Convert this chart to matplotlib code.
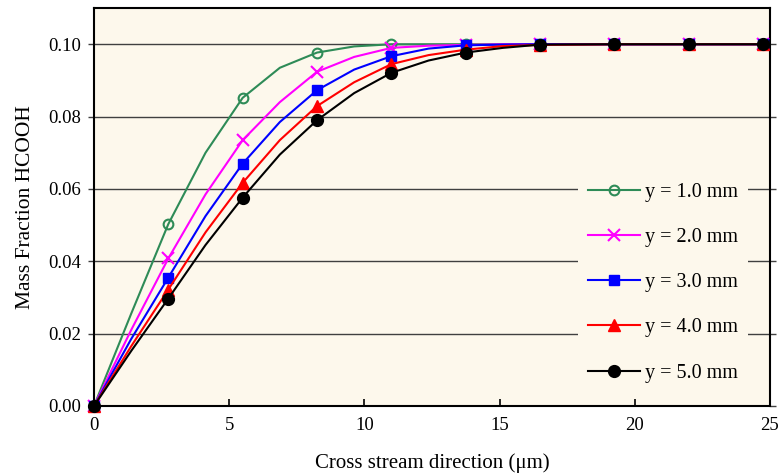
import numpy as np
import matplotlib
matplotlib.use("Agg")
import matplotlib.pyplot as plt

plt.rcParams['font.family'] = ['Liberation Serif', 'DejaVu Serif']
plt.rcParams['mathtext.fontset'] = 'stix'

# cross stream position (um); markers on every second point
x = [0, 1.375, 2.75, 4.125, 5.5, 6.875, 8.25, 9.625, 11, 12.375, 13.75,
     15.125, 16.5, 19.25, 22, 24.75]

y1 = [0, 0.0255, 0.0503, 0.0700, 0.0852, 0.0935, 0.0977, 0.0994, 0.1000, 0.1000, 0.1000,
      0.1000, 0.1000, 0.1000, 0.1000, 0.1000]
y2 = [0, 0.0210, 0.0408, 0.0585, 0.0735, 0.0840, 0.0924, 0.0965, 0.0990, 0.0996, 0.0998,
      0.1000, 0.1000, 0.1000, 0.1000, 0.1000]
y3 = [0, 0.0185, 0.0355, 0.0525, 0.0670, 0.0785, 0.0873, 0.0930, 0.0967, 0.0988, 0.0997,
      0.0999, 0.1000, 0.1000, 0.1000, 0.1000]
y4 = [0, 0.0165, 0.0322, 0.0480, 0.0617, 0.0735, 0.0829, 0.0895, 0.0945, 0.0970, 0.0985,
      0.0995, 0.0998, 0.1000, 0.1000, 0.1000]
y5 = [0, 0.0152, 0.0297, 0.0445, 0.0576, 0.0695, 0.0790, 0.0865, 0.0921, 0.0955, 0.0977,
      0.0990, 0.0999, 0.1000, 0.1000, 0.1000]

labels = ['y = 1.0 mm', 'y = 2.0 mm', 'y = 3.0 mm', 'y = 4.0 mm', 'y = 5.0 mm']
colors = ['#2e8b57', '#ff00ff', '#0000ff', '#ff0000', '#000000']
markers = ['o', 'x', 's', '^', 'o']
msizes = [7, 9, 7.5, 8.5, 8]
mark_idx = [0, 2, 4, 6, 8, 10, 12, 13, 14, 15]

fig = plt.figure(figsize=(7.8, 4.75), dpi=100)
ax = fig.add_axes([0.1205, 0.1453, 0.8665, 0.8377])
ax.set_facecolor('#fdf8ec')

for ys, lab, c, m, ms in zip([y1, y2, y3, y4, y5], labels, colors, markers, msizes):
    face = 'none' if lab == labels[0] else c
    ax.plot(x, ys, color=c, lw=1.5, marker=m, ms=ms, mfc=face, mec=c,
            mew=1.5 if m in ('o', 'x') else 1, markevery=mark_idx,
            label=lab, clip_on=False, zorder=3)

ax.set_xlim(0, 25)
ax.set_ylim(0, 0.11)
ax.set_xticks([0, 5, 10, 15, 20, 25])
ax.set_yticks([0, 0.02, 0.04, 0.06, 0.08, 0.10])
ax.set_yticklabels(['0.00', '0.02', '0.04', '0.06', '0.08', '0.10'])
ax.yaxis.grid(True, color='#404040', lw=1)
ax.set_axisbelow(True)
ax.tick_params(axis='x', direction='in', length=5, width=1.2, labelsize=13.5, pad=8)
ax.tick_params(axis='y', direction='out', length=4, width=1, color='#404040',
               labelsize=13.5, right=True, pad=5)
for s in ax.spines.values():
    s.set_linewidth(1.5)

ax.set_xlabel('Cross stream direction (\u03bcm)', fontsize=15, labelpad=14)
ax.set_ylabel('Mass Fraction HCOOH', fontsize=15.5, labelpad=10)

leg = ax.legend(loc='center', bbox_to_anchor=(0.842, 0.310), frameon=True,
                fontsize=14.5, labelspacing=1.3, handlelength=2.6, handletextpad=0.25,
                borderpad=0.5)
leg.get_frame().set_facecolor('#fdf8ec')
leg.get_frame().set_edgecolor('none')
leg.get_frame().set_alpha(1)

fig.savefig('out.png', dpi=100)
